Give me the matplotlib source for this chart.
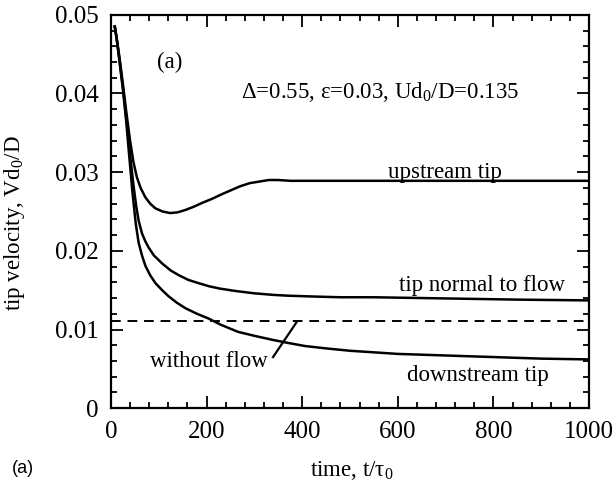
import matplotlib
matplotlib.use("Agg")
import matplotlib.pyplot as plt
from matplotlib.ticker import MultipleLocator, FormatStrFormatter

# Data (time t/tau0, tip velocity V d0/D)
t_up = [8, 12, 18, 25, 32, 40, 47, 54, 62, 72, 82, 93, 108, 124, 140, 156,
        173, 191, 211, 232, 251, 270, 290, 310, 330, 350, 375, 400, 500,
        600, 700, 800, 900, 1000]
v_up = [0.0485, 0.0470, 0.0445, 0.0412, 0.0377, 0.0340, 0.0313, 0.0294,
        0.0280, 0.0268, 0.0260, 0.0254, 0.0250, 0.0248, 0.0249, 0.0252,
        0.0256, 0.0261, 0.0266, 0.0272, 0.0277, 0.0282, 0.0286, 0.0288,
        0.0290, 0.0290, 0.0289, 0.0289, 0.0289, 0.0289, 0.0289, 0.0289,
        0.0289, 0.0289]

t_norm = [8, 12, 18, 25, 32, 40, 47, 53, 58, 65, 72, 79, 90, 107, 125, 142,
          162, 183, 205, 228, 260, 300, 340, 370, 420, 480, 550, 650, 750,
          850, 1000]
v_norm = [0.0485, 0.0470, 0.0442, 0.0408, 0.0370, 0.0322, 0.0284, 0.0256,
          0.0238, 0.0222, 0.0212, 0.0204, 0.0194, 0.0184, 0.0175, 0.0169,
          0.0163, 0.0159, 0.0155, 0.0152, 0.0149, 0.0146, 0.0144, 0.0143,
          0.0142, 0.0141, 0.0141, 0.0140, 0.0139, 0.0138, 0.0137]

t_down = [8, 12, 18, 25, 32, 38, 45, 52, 58, 65, 72, 82, 93, 107, 121, 138,
          156, 180, 204, 230, 266, 300, 337, 370, 406, 450, 500, 600, 700,
          800, 900, 1000]
v_down = [0.0485, 0.0469, 0.0440, 0.0405, 0.0364, 0.0322, 0.0274, 0.0234,
          0.0210, 0.0194, 0.0181, 0.0169, 0.0159, 0.0150, 0.0142, 0.0134,
          0.0127, 0.0120, 0.0114, 0.0106, 0.0097, 0.0092, 0.0087, 0.0083,
          0.0079, 0.0076, 0.0073, 0.0069, 0.0067, 0.0065, 0.0063, 0.0062]

t_noflow = [0, 1000]
v_noflow = [0.0111, 0.0111]

serif = "Liberation Serif"
plt.rcParams["font.family"] = serif
plt.rcParams["mathtext.fontset"] = "custom"
plt.rcParams["mathtext.rm"] = serif

fig = plt.figure(figsize=(6.13, 4.93), dpi=100)
ax = fig.add_axes([0.181, 0.172, 0.780, 0.798])

lw = 1.8
ax.plot(t_up, v_up, color="black", lw=lw)
ax.plot(t_norm, v_norm, color="black", lw=lw)
ax.plot(t_down, v_down, color="black", lw=lw)
ax.plot(t_noflow, v_noflow, color="black", lw=1.4, linestyle=(0, (5, 3.5)))

# pointer line for "without flow"
ax.plot([339, 389], [0.0065, 0.0110], color="black", lw=1.6)

ax.set_xlim(0, 1000)
ax.set_ylim(0, 0.05)
ax.xaxis.set_major_locator(MultipleLocator(200))
ax.xaxis.set_minor_locator(MultipleLocator(40))
ax.yaxis.set_major_locator(MultipleLocator(0.01))
ax.yaxis.set_minor_locator(MultipleLocator(0.002))
ax.yaxis.set_major_formatter(FormatStrFormatter("%g"))

ax.tick_params(which="both", direction="in", top=True, right=True,
               labelsize=18, width=1.3)
ax.tick_params(which="major", length=8.5)
ax.tick_params(axis="x", which="major", pad=9)
ax.tick_params(axis="y", which="major", pad=9)
ax.tick_params(which="minor", length=4)
for sp in ax.spines.values():
    sp.set_linewidth(1.6)

fs = 16.5
ax.text(123, 0.0439, "(a)", fontsize=fs, ha="center", va="center")
ax.text(563, 0.0402, "Δ=0.55, ε=0.03, Ud$_\\mathregular{0}$/D=0.135",
        fontsize=fs, ha="center", va="center")
ax.text(699, 0.0300, "upstream tip", fontsize=fs, ha="center", va="center")
ax.text(776, 0.0156, "tip normal to flow", fontsize=fs, ha="center", va="center")
ax.text(768, 0.0042, "downstream tip", fontsize=fs, ha="center", va="center")
ax.text(205, 0.0059, "without flow", fontsize=fs, ha="center", va="center")

ax.set_xlabel("time, t/τ$_\\mathregular{0}$", fontsize=fs, va="center")
ax.xaxis.set_label_coords(0.504, -0.158)
ax.set_ylabel("tip velocity, Vd$_\\mathregular{0}$/D", fontsize=fs, va="center")
ax.yaxis.set_label_coords(-0.201, 0.47)

fig.text(0.038, 0.05, "(a)", fontsize=13, family="Liberation Sans",
         ha="center", va="center")

fig.savefig("out.png", dpi=100)
